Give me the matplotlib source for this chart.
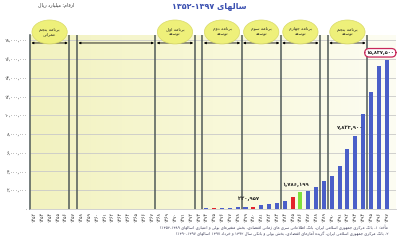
import matplotlib
matplotlib.use('Agg')
import matplotlib.pyplot as plt
import numpy as np
from matplotlib.patches import Ellipse
from matplotlib.colors import LinearSegmentedColormap

plt.rcParams['font.family'] = ['DejaVu Sans']

# ---------------- data ----------------
years = list(range(1352, 1398))
liquidity = [420, 600, 850, 1200, 1600, 2000, 2700, 3300, 3900, 4800,
             5700, 6100, 6900, 8200, 10000, 12500, 15300, 19300, 24600, 31000,
             41000, 55000, 75000, 100000, 125000, 150000, 185000, 175000, 220957, 380000,
             500000, 630000, 850000, 1250000, 1786199, 1920000, 2380000, 2950000, 3550000, 4580000,
             6390000, 7823900, 10150000, 12500000, 15260000, 15837500]
red_years = [1375, 1380, 1385]
green_years = [1386]

yticks = list(range(0, 18000001, 2000000))

plans = [
    ("برنامه پنجم", "عمرانی", 1352, 1356),
    (None, None, 1358, 1367),
    ("برنامه اول", "توسعه", 1368, 1372),
    ("برنامه دوم", "توسعه", 1374, 1378),
    ("برنامه سوم", "توسعه", 1379, 1383),
    ("برنامه چهارم", "توسعه", 1384, 1388),
    ("برنامه پنجم", "توسعه", 1390, 1394),
]

value_labels = [
    (1380, "۲۲۰,۹۵۷"),
    (1386, "۱,۷۸۶,۱۹۹"),
    (1393, "۷,۸۲۳,۹۰۰"),
]
last_label = (1397, "۱۵,۸۳۷,۵۰۰")

title = "سالهای ۱۳۵۲-۱۳۹۷"
unit_text = "ارقام: میلیارد ریال"
source_1 = "مأخذ: ۱- بانک مرکزی جمهوری اسلامی ایران، بانک اطلاعاتی سری های زمانی اقتصادی، بخش متغیرهای پولی و اعتباری (سالهای ۱۳۵۲-۱۳۸۹)"
source_2 = "۲- بانک مرکزی جمهوری اسلامی ایران، گزیده آمارهای اقتصادی، بخش پولی و بانکی سال ۱۳۹۲ و خرداد ۱۳۹۷ (سالهای ۱۳۹۰-۱۳۹۷)"

# ---------------- Persian shaping helpers ----------------
FORMS = {
    '\u0627': ('\uFE8D', '\uFE8E'), '\u0623': ('\uFE83', '\uFE84'), '\u0622': ('\uFE81', '\uFE82'),
    '\u062F': ('\uFEA9', '\uFEAA'), '\u0630': ('\uFEAB', '\uFEAC'), '\u0631': ('\uFEAD', '\uFEAE'),
    '\u0632': ('\uFEAF', '\uFEB0'), '\u0698': ('\uFB8A', '\uFB8B'), '\u0648': ('\uFEED', '\uFEEE'),
    '\u0628': ('\uFE8F', '\uFE90', '\uFE91', '\uFE92'), '\u067E': ('\uFB56', '\uFB57', '\uFB58', '\uFB59'),
    '\u062A': ('\uFE95', '\uFE96', '\uFE97', '\uFE98'), '\u062B': ('\uFE99', '\uFE9A', '\uFE9B', '\uFE9C'),
    '\u062C': ('\uFE9D', '\uFE9E', '\uFE9F', '\uFEA0'), '\u0686': ('\uFB7A', '\uFB7B', '\uFB7C', '\uFB7D'),
    '\u062D': ('\uFEA1', '\uFEA2', '\uFEA3', '\uFEA4'), '\u062E': ('\uFEA5', '\uFEA6', '\uFEA7', '\uFEA8'),
    '\u0633': ('\uFEB1', '\uFEB2', '\uFEB3', '\uFEB4'), '\u0634': ('\uFEB5', '\uFEB6', '\uFEB7', '\uFEB8'),
    '\u0635': ('\uFEB9', '\uFEBA', '\uFEBB', '\uFEBC'), '\u0636': ('\uFEBD', '\uFEBE', '\uFEBF', '\uFEC0'),
    '\u0637': ('\uFEC1', '\uFEC2', '\uFEC3', '\uFEC4'), '\u0638': ('\uFEC5', '\uFEC6', '\uFEC7', '\uFEC8'),
    '\u0639': ('\uFEC9', '\uFECA', '\uFECB', '\uFECC'), '\u063A': ('\uFECD', '\uFECE', '\uFECF', '\uFED0'),
    '\u0641': ('\uFED1', '\uFED2', '\uFED3', '\uFED4'), '\u0642': ('\uFED5', '\uFED6', '\uFED7', '\uFED8'),
    '\u06A9': ('\uFB8E', '\uFB8F', '\uFB90', '\uFB91'), '\u06AF': ('\uFB92', '\uFB93', '\uFB94', '\uFB95'),
    '\u0644': ('\uFEDD', '\uFEDE', '\uFEDF', '\uFEE0'), '\u0645': ('\uFEE1', '\uFEE2', '\uFEE3', '\uFEE4'),
    '\u0646': ('\uFEE5', '\uFEE6', '\uFEE7', '\uFEE8'), '\u0647': ('\uFEE9', '\uFEEA', '\uFEEB', '\uFEEC'),
    '\u06CC': ('\uFBFC', '\uFBFD', '\uFBFE', '\uFBFF'),
}
LAM_ALEF = {'\u0627': ('\uFEFB', '\uFEFC'), '\u0623': ('\uFEF7', '\uFEF8'), '\u0622': ('\uFEF5', '\uFEF6')}


def shape(text):
    out = []
    i, n = 0, len(text)
    prev_joins = False
    while i < n:
        c = text[i]
        if c not in FORMS:
            out.append(c)
            prev_joins = False
            i += 1
            continue
        if c == '\u0644' and i + 1 < n and text[i + 1] in LAM_ALEF:
            lig = LAM_ALEF[text[i + 1]]
            out.append(lig[1] if prev_joins else lig[0])
            prev_joins = False
            i += 2
            continue
        f = FORMS[c]
        dual = len(f) == 4
        nxt = text[i + 1] if i + 1 < n else ''
        next_joins = dual and nxt in FORMS
        if prev_joins and next_joins:
            g = f[3]
        elif prev_joins:
            g = f[1]
        elif next_joins:
            g = f[2]
        else:
            g = f[0]
        out.append(g)
        prev_joins = next_joins
        i += 1
    return ''.join(out)


DIG = set('0123456789۰۱۲۳۴۵۶۷۸۹')
MIRROR = {'(': ')', ')': '('}


def fa(text):
    s = shape(text)
    runs = []
    i, n = 0, len(s)
    while i < n:
        if s[i] in DIG:
            j = i
            while j < n and (s[j] in DIG or (s[j] in ',.-/' and j + 1 < n and s[j + 1] in DIG)):
                j += 1
            runs.append((True, s[i:j]))
        else:
            j = i
            while j < n and s[j] not in DIG:
                j += 1
            runs.append((False, s[i:j]))
        i = j
    out = []
    for isnum, r in reversed(runs):
        if isnum:
            out.append(r)
        else:
            out.append(''.join(MIRROR.get(ch, ch) for ch in reversed(r)))
    return ''.join(out)


def fa_digits(s):
    return s.translate(str.maketrans('0123456789', '۰۱۲۳۴۵۶۷۸۹'))


# ---------------- figure ----------------
fig = plt.figure(figsize=(4, 2.4), dpi=100)
ax = fig.add_axes([0.075, 0.129, 0.915, 0.724])
XL = (1351.5, 1398.2)
YL = (0, 18.5e6)

cmap = LinearSegmentedColormap.from_list('bg', ['#f2f2bf', '#f8f8d8', '#fdfdf3'])
ax.imshow(np.linspace(0, 1, 256).reshape(1, -1), extent=[XL[0], XL[1], YL[0], YL[1]],
          aspect='auto', cmap=cmap, zorder=-2, interpolation='bicubic')

colors = []
for y in years:
    if y in red_years:
        colors.append('#e3232b')
    elif y in green_years:
        colors.append('#7fe03c')
    else:
        colors.append('#4b5fc8')
ax.bar(years, liquidity, width=0.52, color=colors, zorder=3)

ax.set_xlim(*XL)
ax.set_ylim(*YL)
ax.set_yticks(yticks)
ax.set_yticklabels([fa_digits(f"{v:,}") for v in yticks], fontsize=3.3, color='#333333')
ax.set_xticks(years)
ax.set_xticklabels([fa_digits(str(y)) for y in years], rotation=90, fontsize=3.3, color='#333333')
ax.tick_params(axis='both', length=0, pad=2)
ax.yaxis.grid(True, color='#c9c9c9', lw=0.6)
ax.set_axisbelow(True)
for s in ['top', 'right']:
    ax.spines[s].set_visible(False)
ax.spines['bottom'].set_color('#c9c9c9')
ax.spines['bottom'].set_linewidth(0.6)
ax.spines['left'].set_color('#505a58')
ax.spines['left'].set_linewidth(1.1)

# plan boundaries, arrows, ellipses
bounds = set()
for name1, name2, s, e in plans:
    bounds.add(s - 0.5)
    bounds.add(e + 0.5)
for b in sorted(bounds):
    if b > XL[0] + 0.01:
        ax.axvline(b, color='#505a58', lw=1.1, zorder=4)

arrow_y = 17.68e6
for name1, name2, s, e in plans:
    ax.annotate('', xy=(e + 0.5, arrow_y), xytext=(s - 0.5, arrow_y),
                arrowprops=dict(arrowstyle='<|-|>', lw=0.6, color='black',
                                mutation_scale=3, shrinkA=1, shrinkB=1),
                annotation_clip=False, zorder=5)
    if name1:
        cx = (s + e) / 2.0
        el = Ellipse((cx, 18.85e6), width=4.5, height=2.55e6, facecolor='#eef07a',
                     edgecolor='#d9da66', lw=0.5, zorder=6, clip_on=False)
        ax.add_patch(el)
        ax.text(cx, 18.85e6, fa(name1) + "\n" + fa(name2), ha='center', va='center',
                fontsize=3.2, color='#222222', zorder=7, linespacing=1.5, clip_on=False)

# value labels
for yr, lab in value_labels:
    v = liquidity[years.index(yr)]
    ax.text(yr - 0.6, v + 0.6e6, lab, ha='center', va='bottom', fontsize=3.8,
            fontweight='bold', color='#222222', zorder=7)
yr, lab = last_label
ax.text(yr - 0.8, liquidity[years.index(yr)] + 0.8e6, lab, ha='center', va='center', fontsize=3.6,
        fontweight='bold', color='#222222', zorder=8, clip_on=False,
        bbox=dict(boxstyle='round,pad=0.35,rounding_size=0.9', facecolor='white',
                  edgecolor='#c8285a', lw=0.9))

# titles and notes
fig.text(209 / 400, 1 - 5.5 / 240, fa(title), ha='center', va='center', fontsize=5.8,
         fontweight='bold', color='#3a4fb0')
fig.text(56 / 400, 1 - 5.5 / 240, fa(unit_text), ha='center', va='center', fontsize=3.4,
         color='#333333')
fig.text(388 / 400, 1 - 228 / 240, fa(source_1), ha='right', va='center', fontsize=2.8,
         color='#3a3a55')
fig.text(388 / 400, 1 - 234 / 240, fa(source_2), ha='right', va='center', fontsize=2.8,
         color='#3a3a55')

fig.savefig('out.png', dpi=100, facecolor='white')
